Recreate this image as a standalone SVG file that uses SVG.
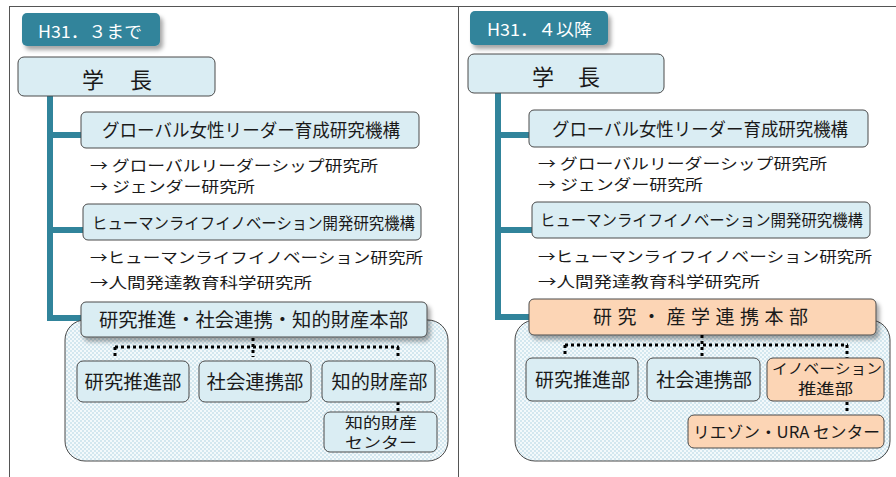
<svg xmlns="http://www.w3.org/2000/svg" width="896" height="477" viewBox="0 0 896 477">
<defs>
<pattern id="chk" width="4" height="4" patternUnits="userSpaceOnUse">
<rect width="4" height="4" fill="#f3f9fb"/>
<rect width="2" height="2" fill="#d3e7ef"/>
<rect x="2" y="2" width="2" height="2" fill="#d3e7ef"/>
</pattern>
<filter id="sh" x="-10%" y="-30%" width="125%" height="180%">
<feDropShadow dx="3" dy="4" stdDeviation="2" flood-color="#000" flood-opacity="0.35"/>
</filter>
</defs>
<style>
.frame{stroke:#555;stroke-width:1;fill:none}
.blue{fill:#daedf3;stroke:#4a4a4a;stroke-width:1}
.orange{fill:#fcd5b5;stroke:#4a4a4a;stroke-width:1}
.cont{fill:url(#chk);stroke:#4a4a4a;stroke-width:1}
.tab{fill:#31849b}
.teal{stroke:#31849b;stroke-width:6;fill:none}
.dot{stroke:#000;stroke-width:3;stroke-dasharray:3 3;fill:none}
text{font-family:"Noto Sans CJK JP","Noto Sans",sans-serif;fill:#1a1a1a}
.t18{font-size:18px;text-anchor:middle}
.t16c{font-size:16px;text-anchor:middle}
.t19{font-size:19px;text-anchor:middle}
.t14m{font-size:14.5px;text-anchor:middle}
.t16m{font-size:16px;text-anchor:middle}
.t15{font-size:15px}
.tabt{font-size:17px;fill:#fff;text-anchor:middle}
.big{font-size:22px;text-anchor:middle}
</style>
<rect width="896" height="477" fill="#fff"/>
<g id="frame">
<path class="frame" d="M9,6.5 H896 M9.5,6 V477 M458.5,6 V477"/>
</g>
<g id="connectors">
<path class="teal" d="M50,96 V318 H81 M50,135 H81 M50,230 H83"/>
<path class="teal" d="M498,93 V317 H529 M498,135 H529 M498,230 H532"/>
</g>
<!-- LEFT PANEL -->
<g id="tab-left">
<rect class="tab" x="22" y="13" width="138" height="33" rx="5" filter="url(#sh)"/>
<text class="tabt" x="90" y="38" textLength="104" lengthAdjust="spacingAndGlyphs">H31．３まで</text>
</g>
<g id="president-left">
<rect class="blue" x="18" y="57" width="197" height="39" rx="6"/>
<text class="big" x="117" y="88" textLength="70" lengthAdjust="spacing">学　長</text>
</g>
<g id="global-left">
<rect class="blue" x="81" y="112" width="338" height="36" rx="5"/>
<text class="t18" x="251" y="137" textLength="298" lengthAdjust="spacingAndGlyphs">グローバル女性リーダー育成研究機構</text>
</g>
<g id="global-sub-left">
<text class="t15" x="90" y="171" textLength="288" lengthAdjust="spacingAndGlyphs">→ グローバルリーダーシップ研究所</text>
<text class="t15" x="90" y="192" textLength="165" lengthAdjust="spacingAndGlyphs">→ ジェンダー研究所</text>
</g>
<g id="human-left">
<rect class="blue" x="83" y="204" width="338" height="36" rx="5"/>
<text class="t16c" x="253.5" y="229" textLength="323" lengthAdjust="spacingAndGlyphs">ヒューマンライフイノベーション開発研究機構</text>
</g>
<g id="human-sub-left">
<text class="t15" x="90" y="263" textLength="333" lengthAdjust="spacingAndGlyphs">→ヒューマンライフイノベーション研究所</text>
<text class="t15" x="90" y="288" textLength="222" lengthAdjust="spacingAndGlyphs">→人間発達教育科学研究所</text>
</g>
<g id="container-left">
<rect class="cont" x="65" y="320" width="383" height="141" rx="20"/>
</g>
<g id="hq-left">
<rect class="blue" x="81" y="302" width="346" height="35" rx="5" filter="url(#sh)"/>
<text class="t19" x="253.5" y="327" textLength="309" lengthAdjust="spacingAndGlyphs">研究推進・社会連携・知的財産本部</text>
</g>
<g id="dots-left">
<path class="dot" d="M253,338 V357 M115,347 H399 M115,347 V357 M398,347 V359 M398,402 V412"/>
</g>
<g id="dept1-left">
<rect class="blue" x="77" y="361" width="112" height="41" rx="6"/>
<text class="t19" x="133" y="389" textLength="97" lengthAdjust="spacingAndGlyphs">研究推進部</text>
</g>
<g id="dept2-left">
<rect class="blue" x="199" y="361" width="112" height="41" rx="6"/>
<text class="t19" x="255" y="389" textLength="97" lengthAdjust="spacingAndGlyphs">社会連携部</text>
</g>
<g id="dept3-left">
<rect class="blue" x="322" y="361" width="113" height="41" rx="6"/>
<text class="t19" x="379.5" y="389" textLength="96" lengthAdjust="spacingAndGlyphs">知的財産部</text>
</g>
<g id="ipcenter-left">
<rect class="blue" x="324" y="412" width="113" height="40" rx="6"/>
<text class="t14m" x="381" y="428" textLength="72" lengthAdjust="spacingAndGlyphs">知的財産</text>
<text class="t14m" x="381" y="448" textLength="72" lengthAdjust="spacingAndGlyphs">センター</text>
</g>
<!-- RIGHT PANEL -->
<g id="tab-right">
<rect class="tab" x="470" y="11" width="138" height="34" rx="5" filter="url(#sh)"/>
<text class="tabt" x="539.5" y="36" textLength="105" lengthAdjust="spacingAndGlyphs">H31．４以降</text>
</g>
<g id="president-right">
<rect class="blue" x="468" y="54" width="196" height="39" rx="6"/>
<text class="big" x="566" y="85" textLength="68" lengthAdjust="spacing">学　長</text>
</g>
<g id="global-right">
<rect class="blue" x="529" y="110" width="339" height="37" rx="5"/>
<text class="t18" x="700" y="136" textLength="296" lengthAdjust="spacingAndGlyphs">グローバル女性リーダー育成研究機構</text>
</g>
<g id="global-sub-right">
<text class="t15" x="538" y="169" textLength="289" lengthAdjust="spacingAndGlyphs">→ グローバルリーダーシップ研究所</text>
<text class="t15" x="538" y="190" textLength="165" lengthAdjust="spacingAndGlyphs">→ ジェンダー研究所</text>
</g>
<g id="human-right">
<rect class="blue" x="532" y="202" width="338" height="36" rx="5"/>
<text class="t16c" x="701.5" y="226" textLength="323" lengthAdjust="spacingAndGlyphs">ヒューマンライフイノベーション開発研究機構</text>
</g>
<g id="human-sub-right">
<text class="t15" x="538" y="262" textLength="334" lengthAdjust="spacingAndGlyphs">→ヒューマンライフイノベーション研究所</text>
<text class="t15" x="538" y="287" textLength="222" lengthAdjust="spacingAndGlyphs">→人間発達教育科学研究所</text>
</g>
<g id="container-right">
<rect class="cont" x="515" y="320" width="375" height="141" rx="20"/>
</g>
<g id="hq-right">
<rect class="orange" x="529" y="299" width="347" height="36" rx="5" filter="url(#sh)"/>
<text class="t19" x="700.5" y="324" textLength="215" lengthAdjust="spacing">研究・産学連携本部</text>
</g>
<g id="dots-right">
<path class="dot" d="M702,335 V356 M565,345 H848 M565,345 V356 M847,345 V358 M847,402 V414"/>
</g>
<g id="dept1-right">
<rect class="blue" x="526" y="358" width="112" height="43" rx="6"/>
<text class="t19" x="582.5" y="387" textLength="95" lengthAdjust="spacingAndGlyphs">研究推進部</text>
</g>
<g id="dept2-right">
<rect class="blue" x="647" y="358" width="113" height="43" rx="6"/>
<text class="t19" x="704" y="387" textLength="96" lengthAdjust="spacingAndGlyphs">社会連携部</text>
</g>
<g id="dept3-right">
<rect class="orange" x="767" y="358" width="117" height="43" rx="6"/>
<text class="t14m" x="827" y="374" textLength="110" lengthAdjust="spacingAndGlyphs">イノベーション</text>
<text class="t14m" x="825.5" y="394" textLength="55" lengthAdjust="spacingAndGlyphs">推進部</text>
</g>
<g id="liaison-right">
<rect class="orange" x="688" y="415" width="196" height="33" rx="6"/>
<text class="t16m" x="786.5" y="438" textLength="187" lengthAdjust="spacingAndGlyphs">リエゾン・URA センター</text>
</g>
</svg>
